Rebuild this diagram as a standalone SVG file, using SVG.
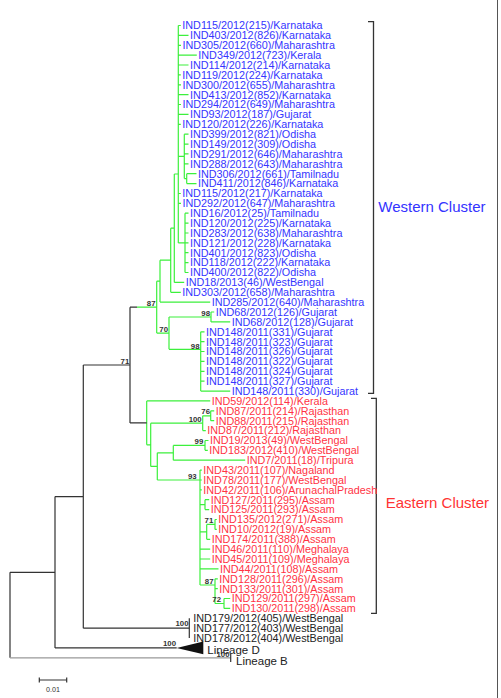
<svg xmlns="http://www.w3.org/2000/svg" width="501" height="698" viewBox="0 0 501 698">
<style>
text{font-family:"Liberation Sans",Arial,sans-serif}
.w{font-size:10.8px;fill:#3535ff}
.e{font-size:10.8px;fill:#ff3344}
.k{font-size:10.8px;fill:#222}
.lin{font-size:11.5px;fill:#222}
.bs{font-size:7.8px;font-weight:bold;fill:#333;text-anchor:end}
.cl{font-size:15px}
.gr{fill:none;stroke:#3cf03c;stroke-width:1.2}
.bl{fill:none;stroke:#333;stroke-width:1.2}
.lg{fill:none;stroke:#999;stroke-width:1.2}
.br{fill:none;stroke:#333;stroke-width:1.3}
</style>
<rect width="501" height="698" fill="#fff"/>
<g id="connectors">
<path class="gr" d="M178.3,25.5V242.9 M178.3,25.5H180.8 M178.3,35.4H188.5 M178.3,45.3H181 M178.3,55.1H196.8 M178.3,65H188.5 M178.3,74.9H180.8 M178.3,84.8H181 M178.3,94.7H188.5 M178.3,104.5H181 M178.3,114.4H188.5 M178.3,124.3H180.8 M178.3,193.5H180.8 M178.3,203.3H181"/>
<path class="gr" d="M178.3,156.4H184.3 M184.3,134.2V178.6 M184.3,134.2H188.5 M184.3,144.1H188.5 M184.3,153.9H188.5 M184.3,163.8H188.5 M184.3,178.6H186.7 M186.7,173.7V183.6 M186.7,173.7H196.5 M186.7,183.6H196.5"/>
<path class="gr" d="M178.3,242.9H185 M185,213.2V272.5 M185,213.2H188.5 M185,223.1H188.5 M185,233H188.5 M185,242.9H188.5 M185,252.7H188.5 M185,262.6H188.5 M185,272.5H188.5"/>
<path class="gr" d="M174.3,174V282.4 M174.3,174H178.3 M174.3,282.4H184.2 M170.7,228.2V292.3 M170.7,228.2H174.3 M170.7,292.3H180.8 M160,260.2V302.1 M160,260.2H170.7 M160,302.1H210.2"/>
<path class="gr" d="M211,312V321.9 M211,312H214.2 M211,321.9H230.2 M200.7,331.8V391.1 M200.7,331.8H204.5 M200.7,341.7H204.5 M200.7,351.5H204.5 M200.7,361.4H204.5 M200.7,371.3H204.5 M200.7,381.2H204.5 M200.7,391.1H230.2 M169,317V349.3 M169,317H211 M169,349.3H200.7 M156.7,281.2V333.1 M156.7,281.2H160 M156.7,333.1H169 M137,307.2H156.7"/>
<path class="gr" d="M210.7,410.8V420.7 M210.7,410.8H214.2 M210.7,420.7H214.2 M202.7,415.8V430.6 M202.7,415.8H210.7 M202.7,430.6H205.8 M205,440.5V450.3 M205,440.5H208.5 M205,450.3H207.8 M173.3,445.4V460.2 M173.3,445.4H205 M173.3,460.2H245.2"/>
<path class="gr" d="M200,470.1V585 M200,470.1H201.8 M200,480H201.8 M200,489.9H201.8 M200,504.7H205 M205,499.7V509.6 M205,499.7H209.2 M205,509.6H209.2 M200,531.9H206.7 M206.7,524.4V539.3 M206.7,524.4H215 M206.7,539.3H210.2 M215,519.5V529.4 M215,519.5H216.8 M215,529.4H216.8 M200,549.1H210.2 M200,559H210.2 M200,568.9H218.5 M200,585H215 M215,578.8V603.5 M215,578.8H217.8 M215,588.7H217.8 M215,603.5H224 M224,598.5V608.4 M224,598.5H230.2 M224,608.4H230.2"/>
<path class="gr" d="M157.3,452.8V480 M157.3,452.8H173.3 M157.3,480H200 M150.7,423.2V466.4 M150.7,423.2H202.7 M150.7,466.4H157.3 M146.7,400.9V444.8 M146.7,400.9H210.2 M146.7,444.8H150.7"/>
<path class="bl" d="M130,307.2V422.9 M130,307.2H137 M130,422.9H146.7 M83.3,365V628.2 M83.3,365H130 M83.3,628.2H189.3 M189.3,618.3V638.1 M55,496.6V647.9 M55,496.6H83.3 M55,647.9H176.7 M10,572.3V657.8 M10,572.3H55"/>
<path class="lg" d="M10,657.8H230.7"/>
<path class="bl" d="M230.7,653.5V662"/>
<polygon points="176.7,647.9 203.3,641.5 203.3,654.2" fill="#111"/>
<path class="br" d="M368,21.7H373.5V393.3H368 M371,398.3H376.3V613.3H371"/>
<path class="bl" d="M39.3,680H66.7 M39.3,677.5V682.5 M66.7,677.5V682.5"/>
<path fill="none" stroke="#555" stroke-width="1" d="M497.5,0V698"/>
</g>
<g id="western-leaves">
<g id="leaf-0"><text class="w" x="182.3" y="29.3">IND115/2012(215)/Karnataka</text></g>
<g id="leaf-1"><text class="w" x="190" y="39.2">IND403/2012(826)/Karnataka</text></g>
<g id="leaf-2"><text class="w" x="182.5" y="49.1">IND305/2012(660)/Maharashtra</text></g>
<g id="leaf-3"><text class="w" x="198.3" y="58.9">IND349/2012(723)/Kerala</text></g>
<g id="leaf-4"><text class="w" x="190" y="68.8">IND114/2012(214)/Karnataka</text></g>
<g id="leaf-5"><text class="w" x="182.3" y="78.7">IND119/2012(224)/Karnataka</text></g>
<g id="leaf-6"><text class="w" x="182.5" y="88.6">IND300/2012(655)/Maharashtra</text></g>
<g id="leaf-7"><text class="w" x="190" y="98.5">IND413/2012(852)/Karnataka</text></g>
<g id="leaf-8"><text class="w" x="182.5" y="108.3">IND294/2012(649)/Maharashtra</text></g>
<g id="leaf-9"><text class="w" x="190" y="118.2">IND93/2012(187)/Gujarat</text></g>
<g id="leaf-10"><text class="w" x="182.3" y="128.1">IND120/2012(226)/Karnataka</text></g>
<g id="leaf-11"><text class="w" x="190" y="138">IND399/2012(821)/Odisha</text></g>
<g id="leaf-12"><text class="w" x="190" y="147.9">IND149/2012(309)/Odisha</text></g>
<g id="leaf-13"><text class="w" x="190" y="157.7">IND291/2012(646)/Maharashtra</text></g>
<g id="leaf-14"><text class="w" x="190" y="167.6">IND288/2012(643)/Maharashtra</text></g>
<g id="leaf-15"><text class="w" x="198" y="177.5">IND306/2012(661)/Tamilnadu</text></g>
<g id="leaf-16"><text class="w" x="198" y="187.4">IND411/2012(846)/Karnataka</text></g>
<g id="leaf-17"><text class="w" x="182.3" y="197.3">IND115/2012(217)/Karnataka</text></g>
<g id="leaf-18"><text class="w" x="182.5" y="207.1">IND292/2012(647)/Maharashtra</text></g>
<g id="leaf-19"><text class="w" x="190" y="217">IND16/2012(25)/Tamilnadu</text></g>
<g id="leaf-20"><text class="w" x="190" y="226.9">IND120/2012(225)/Karnataka</text></g>
<g id="leaf-21"><text class="w" x="190" y="236.8">IND283/2012(638)/Maharashtra</text></g>
<g id="leaf-22"><text class="w" x="190" y="246.7">IND121/2012(228)/Karnataka</text></g>
<g id="leaf-23"><text class="w" x="190" y="256.5">IND401/2012(823)/Odisha</text></g>
<g id="leaf-24"><text class="w" x="190" y="266.4">IND118/2012(222)/Karnataka</text></g>
<g id="leaf-25"><text class="w" x="190" y="276.3">IND400/2012(822)/Odisha</text></g>
<g id="leaf-26"><text class="w" x="185.7" y="286.2">IND18/2013(46)/WestBengal</text></g>
<g id="leaf-27"><text class="w" x="182.3" y="296.1">IND303/2012(658)/Maharashtra</text></g>
<g id="leaf-28"><text class="w" x="211.7" y="305.9">IND285/2012(640)/Maharashtra</text></g>
<g id="leaf-29"><text class="w" x="215.7" y="315.8">IND68/2012(126)/Gujarat</text></g>
<g id="leaf-30"><text class="w" x="231.7" y="325.7">IND68/2012(128)/Gujarat</text></g>
<g id="leaf-31"><text class="w" x="206" y="335.6">IND148/2011(331)/Gujarat</text></g>
<g id="leaf-32"><text class="w" x="206" y="345.5">IND148/2011(323)/Gujarat</text></g>
<g id="leaf-33"><text class="w" x="206" y="355.3">IND148/2011(326)/Gujarat</text></g>
<g id="leaf-34"><text class="w" x="206" y="365.2">IND148/2011(322)/Gujarat</text></g>
<g id="leaf-35"><text class="w" x="206" y="375.1">IND148/2011(324)/Gujarat</text></g>
<g id="leaf-36"><text class="w" x="206" y="385">IND148/2011(327)/Gujarat</text></g>
<g id="leaf-37"><text class="w" x="231.7" y="394.9">IND148/2011(330)/Gujarat</text></g>
</g>
<g id="eastern-leaves">
<g id="leaf-38"><text class="e" x="211.7" y="404.7">IND59/2012(114)/Kerala</text></g>
<g id="leaf-39"><text class="e" x="215.7" y="414.6">IND87/2011(214)/Rajasthan</text></g>
<g id="leaf-40"><text class="e" x="215.7" y="424.5">IND88/2011(215)/Rajasthan</text></g>
<g id="leaf-41"><text class="e" x="207.3" y="434.4">IND87/2011(212)/Rajasthan</text></g>
<g id="leaf-42"><text class="e" x="210" y="444.3">IND19/2013(49)/WestBengal</text></g>
<g id="leaf-43"><text class="e" x="209.3" y="454.1">IND183/2012(410)/WestBengal</text></g>
<g id="leaf-44"><text class="e" x="246.7" y="464">IND7/2011(18)/Tripura</text></g>
<g id="leaf-45"><text class="e" x="203.3" y="473.9">IND43/2011(107)/Nagaland</text></g>
<g id="leaf-46"><text class="e" x="203.3" y="483.8">IND78/2011(177)/WestBengal</text></g>
<g id="leaf-47"><text class="e" x="203.3" y="493.7">IND42/2011(106)/ArunachalPradesh</text></g>
<g id="leaf-48"><text class="e" x="210.7" y="503.5">IND127/2011(295)/Assam</text></g>
<g id="leaf-49"><text class="e" x="210.7" y="513.4">IND125/2011(293)/Assam</text></g>
<g id="leaf-50"><text class="e" x="218.3" y="523.3">IND135/2012(271)/Assam</text></g>
<g id="leaf-51"><text class="e" x="218.3" y="533.2">IND10/2012(19)/Assam</text></g>
<g id="leaf-52"><text class="e" x="211.7" y="543.1">IND174/2011(388)/Assam</text></g>
<g id="leaf-53"><text class="e" x="211.7" y="552.9">IND46/2011(110)/Meghalaya</text></g>
<g id="leaf-54"><text class="e" x="211.7" y="562.8">IND45/2011(109)/Meghalaya</text></g>
<g id="leaf-55"><text class="e" x="220" y="572.7">IND44/2011(108)/Assam</text></g>
<g id="leaf-56"><text class="e" x="219.3" y="582.6">IND128/2011(296)/Assam</text></g>
<g id="leaf-57"><text class="e" x="219.3" y="592.5">IND133/2011(301)/Assam</text></g>
<g id="leaf-58"><text class="e" x="231.7" y="602.3">IND129/2011(297)/Assam</text></g>
<g id="leaf-59"><text class="e" x="231.7" y="612.2">IND130/2011(298)/Assam</text></g>
</g>
<g id="outgroup-leaves">
<g id="leaf-60"><text class="k" x="193.3" y="622.1">IND179/2012(405)/WestBengal</text></g>
<g id="leaf-61"><text class="k" x="193.3" y="632">IND177/2012(403)/WestBengal</text></g>
<g id="leaf-62"><text class="k" x="193.3" y="641.9">IND178/2012(404)/WestBengal</text></g>
<g id="lineage-d"><text class="lin" x="207.3" y="654">Lineage D</text></g>
<g id="lineage-b"><text class="lin" x="236" y="665">Lineage B</text></g>
</g>
<g id="bootstrap">
<text class="bs" x="155.5" y="306">87</text>
<text class="bs" x="168" y="332">70</text>
<text class="bs" x="129.3" y="364">71</text>
<text class="bs" x="210" y="315.5">98</text>
<text class="bs" x="199.5" y="348.5">98</text>
<text class="bs" x="210" y="414">76</text>
<text class="bs" x="201.7" y="422">100</text>
<text class="bs" x="203.3" y="444">99</text>
<text class="bs" x="196.7" y="479">93</text>
<text class="bs" x="213.3" y="523">71</text>
<text class="bs" x="213.5" y="584">87</text>
<text class="bs" x="221" y="602">72</text>
<text class="bs" x="188.5" y="626">100</text>
<text class="bs" x="176" y="646">100</text>
<text class="bs" x="229.5" y="657">100</text>
</g>
<g id="western-cluster"><text class="cl" x="378.3" y="212" fill="#3333ff">Western Cluster</text></g>
<g id="eastern-cluster"><text class="cl" x="385.7" y="508" fill="#ff3333">Eastern Cluster</text></g>
<g id="scale"><text x="53" y="692" font-size="7.2" fill="#333" text-anchor="middle">0.01</text></g>
</svg>
